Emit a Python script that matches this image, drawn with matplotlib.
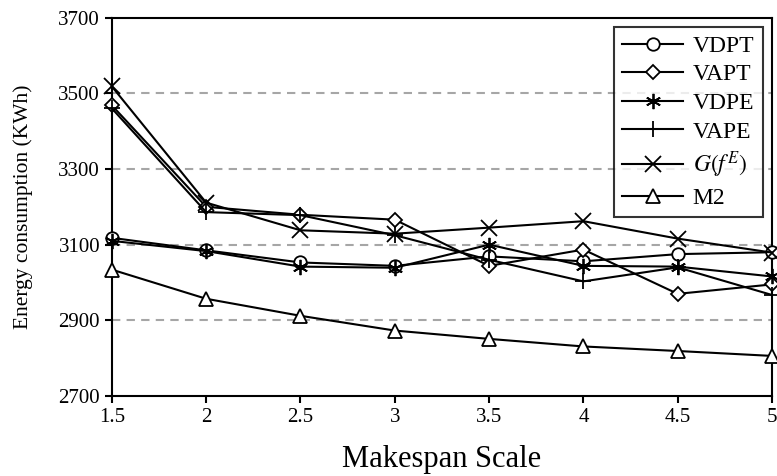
import matplotlib
matplotlib.use('Agg')
import matplotlib.pyplot as plt

plt.rcParams['font.family'] = ['Liberation Serif', 'DejaVu Serif']
plt.rcParams['mathtext.fontset'] = 'stix'

# makespan scale on the x axis
scale = [1.5, 2, 2.5, 3, 3.5, 4, 4.5, 5]

# energy consumption (KWh)
vdpt = [3118, 3085, 3053, 3044, 3069, 3056, 3075, 3080]
vapt = [3468, 3200, 3179, 3166, 3044, 3087, 2970, 2995]
vdpe = [3110, 3083, 3042, 3039, 3100, 3044, 3042, 3016]
vape = [3460, 3186, 3178, 3125, 3060, 3003, 3040, 2967]
g_fe = [3518, 3211, 3138, 3129, 3145, 3162, 3116, 3079]
m2 = [3034, 2957, 2912, 2873, 2851, 2831, 2819, 2806]

labels = ['VDPT', 'VAPT', 'VDPE', 'VAPE', r'$G(f^{E})$', 'M2']
series = [vdpt, vapt, vdpe, vape, g_fe, m2]
markers = ['o', 'D', (6, 2, 0), '+', 'x', '^']
msizes = [9, 7.5, 11, 12, 11, 10]

yticks = [2700, 2900, 3100, 3300, 3500, 3700]
xticks = [1.5, 2, 2.5, 3, 3.5, 4, 4.5, 5]
xticklabels = ['1.5', '2', '2.5', '3', '3.5', '4', '4.5', '5']

fig = plt.figure(figsize=(7.77, 4.76), dpi=100)
ax = fig.add_axes([0.144, 0.168, 0.8496, 0.795])

for y in [2900, 3100, 3300, 3500]:
    ax.axhline(y, color='#a6a6a6', lw=1.5, ls=(0, (4, 3)), zorder=1)

for vals, lab, mk, ms in zip(series, labels, markers, msizes):
    ax.plot(scale, vals, color='black', lw=1.5, marker=mk, ms=ms,
            mfc='white', mec='black', mew=1.3, label=lab, zorder=3,
            clip_on=False)

ax.set_xlim(1.5, 5)
ax.set_ylim(2700, 3700)
ax.set_xticks(xticks)
ax.set_xticklabels(xticklabels)
ax.set_yticks(yticks)
ax.tick_params(direction='out', length=5, width=1.5, labelsize=15, colors='black')
for s in ax.spines.values():
    s.set_linewidth(1.5)

ax.set_xlabel('Makespan Scale', fontsize=22, labelpad=13)
ax.set_ylabel('Energy consumption (KWh)', fontsize=15.5, labelpad=18)

leg = ax.legend(loc='upper right', fontsize=17, frameon=True, fancybox=False,
                edgecolor='black', handlelength=2.6, handletextpad=0.4,
                labelspacing=0.3, borderpad=0.35, borderaxespad=0.4)
leg.get_frame().set_linewidth(1.5)

fig.savefig('out.png', dpi=100)
